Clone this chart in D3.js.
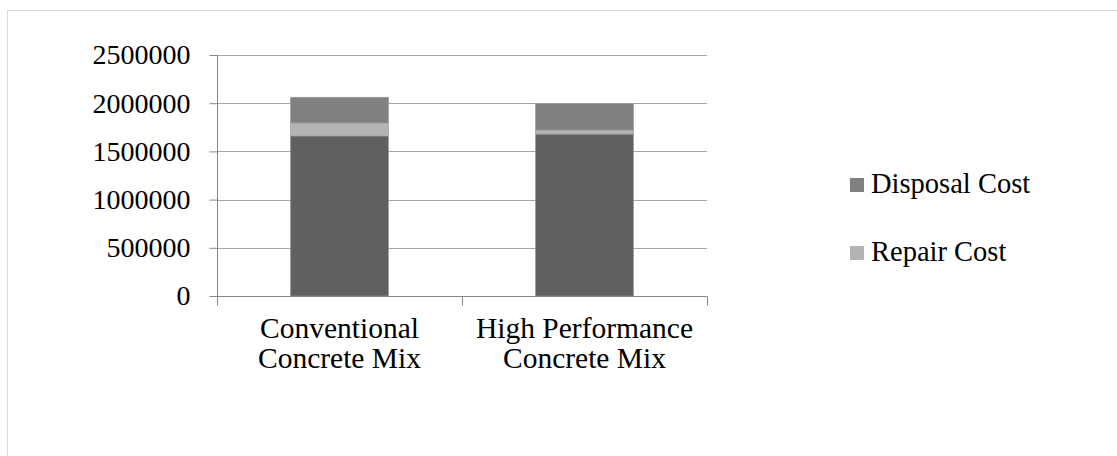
<!DOCTYPE html>
<html>
<head>
<meta charset="utf-8">
<script src="https://cdn.jsdelivr.net/npm/d3@7"></script>
<style>
  html, body { margin: 0; padding: 0; background: #fff; }
  svg { display: block; font-family: "Liberation Serif", "Times New Roman", serif; }
</style>
</head>
<body>
<svg id="chart" width="1117" height="456"></svg>
<script>
// Life-cycle cost per concrete mix (stacked)
const categories = ["Conventional Concrete Mix", "High Performance Concrete Mix"];
const categoryLines = [["Conventional", "Concrete Mix"], ["High Performance", "Concrete Mix"]];
const seriesNames = ["Initial Cost", "Repair Cost", "Disposal Cost"];
const initialCost = [1660000, 1680000];
const repairCost = [135000, 42000];
const disposalCost = [267000, 273000];
const yTicks = [0, 500000, 1000000, 1500000, 2000000, 2500000];
const legendEntries = ["Disposal Cost", "Repair Cost"];

const colors = { "Initial Cost": "#606060", "Repair Cost": "#b3b3b3", "Disposal Cost": "#808080" };

const rows = categories.map((c, i) => ({
  category: c,
  "Initial Cost": initialCost[i],
  "Repair Cost": repairCost[i],
  "Disposal Cost": disposalCost[i]
}));

const svg = d3.select("#chart");

// outer chart frame
svg.append("rect")
  .attr("x", 7.5).attr("y", 10.5)
  .attr("width", 1200).attr("height", 500)
  .attr("fill", "none").attr("stroke", "#d9d9d9").attr("stroke-width", 1);

const plot = { left: 217, right: 707, top: 55, bottom: 296 };

const x = d3.scaleBand().domain(categories).range([plot.left, plot.right]).paddingInner(0.6).paddingOuter(0.3);
const y = d3.scaleLinear().domain([0, 2500000]).range([plot.bottom, plot.top]);

// horizontal gridlines
svg.append("g").selectAll("line").data(yTicks.filter(t => t > 0)).join("line")
  .attr("x1", plot.left).attr("x2", plot.right)
  .attr("y1", d => Math.round(y(d)) + 0.5).attr("y2", d => Math.round(y(d)) + 0.5)
  .attr("stroke", "#a6a6a6").attr("stroke-width", 1);

// stacked bars
const stack = d3.stack().keys(seriesNames)(rows);
svg.append("g").selectAll("g").data(stack).join("g")
  .attr("fill", d => colors[d.key])
  .selectAll("rect").data(d => d).join("rect")
  .attr("x", d => x(d.data.category))
  .attr("width", x.bandwidth())
  .attr("y", d => y(d[1]))
  .attr("height", d => y(d[0]) - y(d[1]))
  .attr("stroke", "#9a9a9a").attr("stroke-width", 0.6);

// y axis
const yAxis = svg.append("g")
  .attr("transform", `translate(${plot.left + 0.5},0)`)
  .call(d3.axisLeft(y).tickValues(yTicks).tickFormat(d3.format("d")).tickSize(8).tickPadding(19));
yAxis.select(".domain").attr("stroke", "#868686").attr("d", `M0,${plot.top}V${plot.bottom}`);
yAxis.selectAll(".tick line").attr("stroke", "#868686");
yAxis.selectAll(".tick text")
  .attr("font-size", "28px").attr("fill", "#000").attr("font-family", "Liberation Serif, serif");

// x axis with boundary ticks
const xAxis = svg.append("g").attr("transform", `translate(0,${plot.bottom + 0.5})`);
xAxis.append("line").attr("x1", plot.left).attr("x2", plot.right).attr("stroke", "#868686");
const boundaries = d3.range(categories.length + 1).map(i => plot.left + i * (plot.right - plot.left) / categories.length);
xAxis.selectAll("line.tick").data(boundaries).join("line")
  .attr("class", "tick")
  .attr("x1", d => Math.round(d) + 0.5).attr("x2", d => Math.round(d) + 0.5)
  .attr("y1", 0).attr("y2", 9)
  .attr("stroke", "#868686");

// category labels
svg.append("g").selectAll("text").data(categories).join("text")
  .attr("text-anchor", "middle")
  .attr("font-size", "29.5px")
  .attr("fill", "#000")
  .attr("transform", d => `translate(${x(d) + x.bandwidth() / 2},338)`)
  .selectAll("tspan").data((d, i) => categoryLines[i]).join("tspan")
  .attr("x", 0).attr("dy", (d, i) => i === 0 ? 0 : 30)
  .text(d => d);

// legend
const legend = svg.append("g").selectAll("g").data(legendEntries).join("g")
  .attr("transform", (d, i) => `translate(850,${178 + i * 68})`);
legend.append("rect").attr("width", 14).attr("height", 14).attr("fill", d => colors[d]);
legend.append("text").attr("x", 21).attr("y", 15)
  .attr("font-size", "28.5px").attr("fill", "#000").text(d => d);
</script>
</body>
</html>
